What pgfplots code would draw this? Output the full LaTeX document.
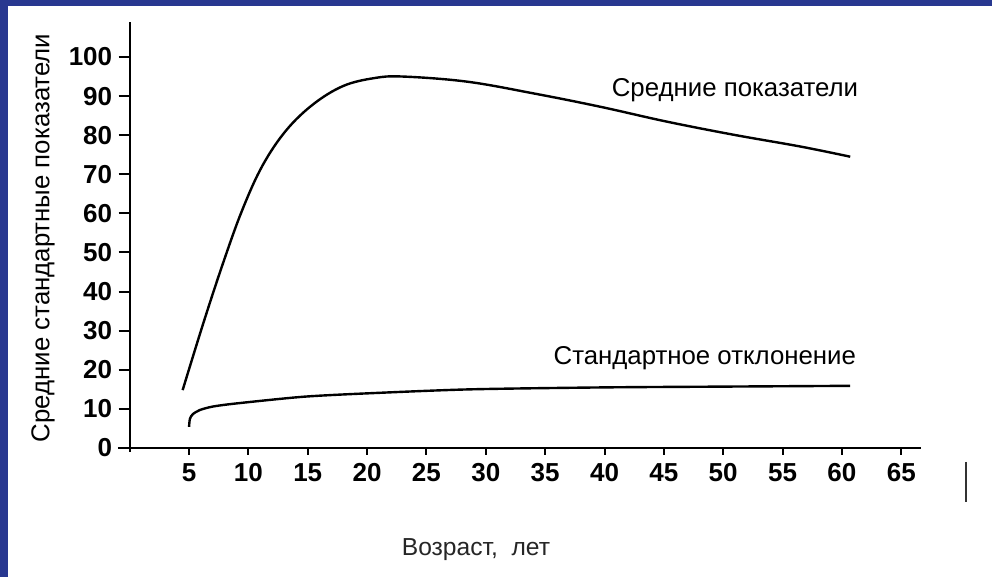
\documentclass[border=0pt]{standalone}
\usepackage{pgfplots}
\pgfplotsset{compat=1.18}
\usepackage{fontspec}
\setmainfont{Liberation Sans}
\definecolor{frameblue}{RGB}{40,56,144}
\begin{document}
\begin{tikzpicture}
\fill[frameblue] (0,0) rectangle (992pt,577pt);
\fill[white] (8pt,0) rectangle (992pt,571pt);
\begin{axis}[
  at={(129.7pt,129pt)}, anchor=origin,
  scale only axis,
  width=803.6pt, height=430.1pt,
  xmin=-1, xmax=66.7, ymin=-1, ymax=109,
  axis lines=middle,
  axis line style={-, line width=2.2pt, black},
  hide obscured x ticks=false, hide obscured y ticks=false,
  xtick={5,10,...,65}, ytick={0,10,...,100},
  tick align=outside,
  major tick length=11pt,
  tick style={line width=2pt, black},
  xtick style={/pgfplots/major tick length=7pt},
  ticklabel style={font=\fontsize{26}{28}\selectfont\bfseries},
  /pgf/number format/assume math mode=true,
  xticklabel style={yshift=-1pt},
  yticklabel style={xshift=-3pt},
  clip=false,
]
\addplot[black, line width=2.4pt, smooth, tension=0.6] coordinates {
(4.46,14.8)(6.2,31.9)(7.9,47.6)(9.5,61.0)(11.2,72.3)(13.2,81.3)(15.5,88.0)(18.0,92.6)(20.6,94.6)(23.0,95.0)(28.4,93.7)(34.0,90.7)(39.6,87.3)(45.2,83.5)(50.9,80.1)(56.5,77.1)(60.7,74.5)
};
\addplot[black, line width=2.4pt, smooth, tension=0.45] coordinates {
(5.0,5.4)(5.07,7.4)(5.3,8.6)(5.9,9.7)(7.0,10.6)(9.0,11.4)(14.6,13.1)(20.2,14.0)(28.7,15.0)(40,15.5)(50,15.7)(60.7,15.9)
};
\node[anchor=west, inner sep=0pt, font=\fontsize{25.8}{28}\selectfont] at (axis cs:40.6,91.6) {Средние показатели};
\node[anchor=west, inner sep=0pt, font=\fontsize{25.8}{28}\selectfont] at (axis cs:35.7,23.0) {Стандартное отклонение};
\end{axis}
\node[rotate=90, font=\fontsize{25.8}{28}\selectfont] at (43pt,339pt) {Средние стандартные показатели};
\node[font=\fontsize{24.6}{26}\selectfont, text=black!85] at (476pt,27pt) {Возраст,\ \ лет};
\draw[line width=2pt, black!80] (966pt,115pt) -- (966pt,75pt);
\pgfresetboundingbox
\path[use as bounding box] (0,0) rectangle (992pt,577pt);
\end{tikzpicture}
\end{document}
